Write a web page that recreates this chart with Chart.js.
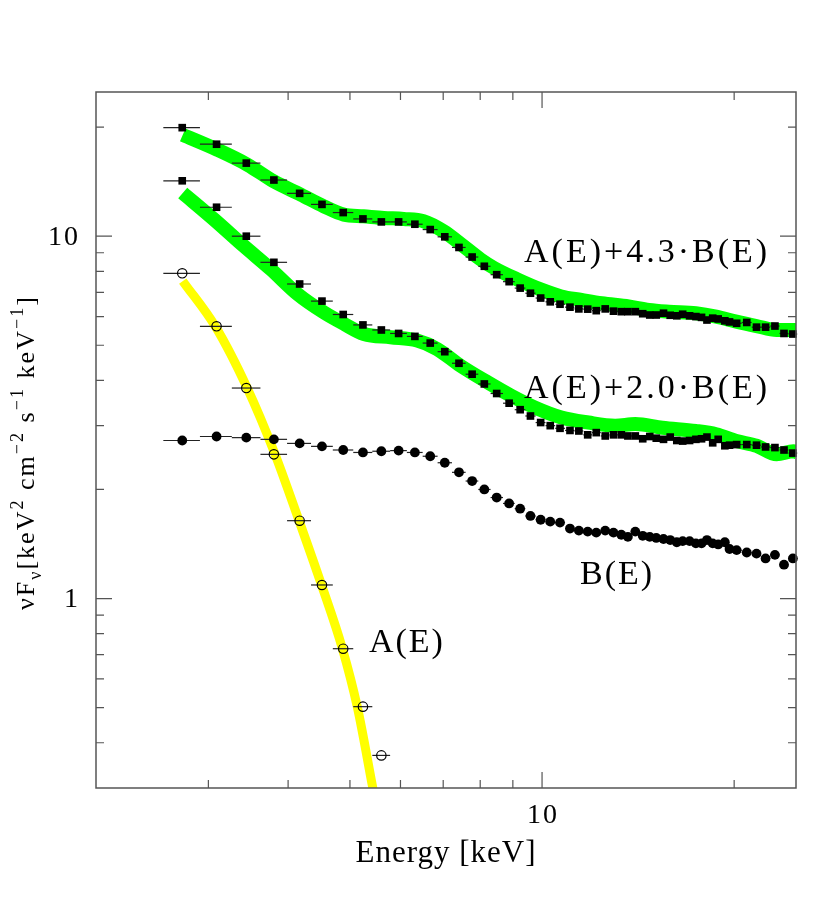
<!DOCTYPE html>
<html>
<head>
<meta charset="utf-8">
<script src="https://cdn.jsdelivr.net/npm/chart.js@4.4.1/dist/chart.umd.min.js"></script>
<style>
  html, body { margin: 0; padding: 0; background: #fff; }
  #wrap { width: 822px; height: 902px; position: relative; }
</style>
</head>
<body>
<div id="wrap"><canvas id="c"></canvas></div>
<script>
// Spectral decomposition: nuFnu of A(E), B(E) and two sums, log-log.

// Bin centres (keV), shared by every measured series.
const energy = [2.73, 3.09, 3.44, 3.80, 4.17, 4.52, 4.88, 5.24, 5.60, 5.96,
  6.32, 6.68, 7.04, 7.41, 7.77, 8.12, 8.49, 8.88, 9.24, 9.59,
  9.95, 10.30, 10.67, 11.06, 11.42, 11.79, 12.16, 12.56, 12.94, 13.31,
  13.63, 14.00, 14.38, 14.75, 15.10, 15.50, 15.88, 16.26, 16.61, 17.03,
  17.42, 17.78, 18.13, 18.51, 18.88, 19.34, 19.67, 20.18, 20.93, 21.68,
  22.40, 23.17, 23.94, 24.72];

const sum43 = [19.93, 17.94, 15.91, 14.29, 13.13, 12.24, 11.62, 11.16, 10.95, 10.95,
  10.79, 10.43, 9.96, 9.31, 8.76, 8.26, 7.83, 7.49, 7.19, 6.96,
  6.75, 6.59, 6.49, 6.37, 6.30, 6.29, 6.23, 6.30, 6.21, 6.19,
  6.19, 6.19, 6.11, 6.06, 6.06, 6.13, 6.05, 6.03, 6.09, 6.03,
  6.00, 5.97, 5.87, 5.94, 5.91, 5.84, 5.80, 5.75, 5.78, 5.61,
  5.61, 5.65, 5.39, 5.37];

const sum20 = [14.22, 12.02, 10.0, 8.47, 7.38, 6.62, 6.08, 5.69, 5.51, 5.39,
  5.29, 5.07, 4.80, 4.46, 4.16, 3.91, 3.68, 3.46, 3.32, 3.19,
  3.06, 3.00, 2.95, 2.91, 2.90, 2.83, 2.87, 2.81, 2.83, 2.83,
  2.81, 2.81, 2.76, 2.80, 2.77, 2.75, 2.79, 2.73, 2.72, 2.73,
  2.75, 2.76, 2.79, 2.69, 2.75, 2.64, 2.65, 2.66, 2.66, 2.65,
  2.62, 2.61, 2.57, 2.52];

const compB = [2.73, 2.80, 2.78, 2.75, 2.68, 2.63, 2.57, 2.53, 2.55, 2.56,
  2.53, 2.47, 2.37, 2.23, 2.11, 2.00, 1.90, 1.83, 1.77, 1.69,
  1.65, 1.63, 1.62, 1.56, 1.54, 1.53, 1.52, 1.54, 1.52, 1.50,
  1.48, 1.53, 1.49, 1.48, 1.47, 1.46, 1.45, 1.43, 1.44, 1.44,
  1.42, 1.42, 1.45, 1.42, 1.41, 1.43, 1.37, 1.36, 1.34, 1.33,
  1.29, 1.32, 1.24, 1.29];

// A(E) only measured in the first nine bins.
const compA = [7.90, 5.64, 3.81, 2.50, 1.64, 1.09, 0.727, 0.503, 0.369];

// Model curves (thick bands).
const model43E = [2.735, 3.10, 3.456, 3.80, 4.19, 4.55, 4.89, 5.25, 5.65, 6.07,
  6.52, 7.01, 7.53, 8.01, 8.41, 9.16, 9.97, 10.72, 11.53, 12.40,
  13.67, 14.70, 15.81, 17.42, 18.74, 20.16, 21.68, 23.31, 25.1];
const model43V = [19.03, 17.31, 15.74, 14.16, 13.02, 12.09, 11.47, 11.35, 11.23, 11.16,
  11.0, 10.32, 9.39, 8.63, 8.17, 7.59, 7.12, 6.82, 6.67, 6.53,
  6.40, 6.26, 6.19, 6.13, 6.00, 5.81, 5.65, 5.51, 5.51];

const model20E = [2.735, 3.064, 3.41, 3.76, 4.14, 4.55, 4.90, 5.26, 5.79, 6.37,
  6.85, 7.45, 8.22, 8.94, 9.73, 10.72, 11.82, 13.02, 14.00, 15.43,
  17.42, 18.74, 20.16, 21.68, 23.31, 24.77, 25.1];
const model20V = [13.16, 11.11, 9.39, 8.10, 6.92, 6.16, 5.72, 5.37, 5.26, 5.15,
  4.88, 4.39, 3.95, 3.63, 3.37, 3.16, 3.06, 3.00, 3.03, 2.96,
  2.90, 2.84, 2.72, 2.64, 2.50, 2.55, 2.53];

const modelAE = [2.735, 3.083, 3.456, 3.803, 4.162, 4.516, 4.866, 5.136, 5.42, 5.48];
const modelAV = [7.52, 5.60, 3.79, 2.54, 1.638, 1.086, 0.727, 0.501, 0.305, 0.275];

// Axis ticks.
const xMajor = [10];
const xMinor = [3, 4, 5, 6, 7, 8, 9, 20];
const yMajor = [1, 10];
const yMinor = [0.4, 0.5, 0.6, 0.7, 0.8, 0.9, 2, 3, 4, 5, 6, 7, 8, 9, 20];

// In-plot labels, anchored (left, baseline) in data coordinates.
const curveLabels = [
  { text: "A(E)+4.3\u00B7B(E)", x: 9.37, y: 8.49, sp: 3 },
  { text: "A(E)+2.0\u00B7B(E)", x: 9.37, y: 3.58, sp: 3 },
  { text: "B(E)", x: 11.47, y: 1.10, sp: 2 },
  { text: "A(E)", x: 5.355, y: 0.712, sp: 2 },
];

const FONT = '"Liberation Serif", "DejaVu Serif", serif';
const INK = "#000";
const AXIS = "#555";

const pts = (xs, ys) => ys.map((v, i) => ({ x: xs[i], y: v }));

// x error bars span each bin: half way to the neighbouring centres.
function bins(e) {
  const n = e.length;
  return e.map((c, i) => {
    const lo = i > 0 ? (e[i - 1] + c) / 2 : c - (e[1] - e[0]) / 2;
    const hi = i < n - 1 ? (c + e[i + 1]) / 2 : c + (e[n - 1] - e[n - 2]) / 2;
    return [lo, hi];
  });
}
const xBins = bins(energy);

const errBars = {
  id: "errBars",
  beforeDatasetDraw(chart, args) {
    const ds = chart.data.datasets[args.index];
    if (!ds.xBins) return;
    const { ctx, scales: { x, y } } = chart;
    ctx.save();
    ctx.strokeStyle = "#222";
    ctx.lineWidth = 1.2;
    ds.data.forEach((p, i) => {
      const py = y.getPixelForValue(p.y);
      ctx.beginPath();
      ctx.moveTo(x.getPixelForValue(ds.xBins[i][0]), py);
      ctx.lineTo(x.getPixelForValue(ds.xBins[i][1]), py);
      ctx.stroke();
    });
    ctx.restore();
  },
};

function drawRuns(ctx, runs, size) {        // text with super/subscripts
  let at = 0;
  for (const r of runs) {
    const s = r.sup || r.sub ? size * 0.7 : size;
    ctx.font = `${s}px ${FONT}`;
    const dy = r.sup ? -size * 0.42 : r.sub ? size * 0.28 : 0;
    ctx.fillText(r.t, at, dy);
    at += ctx.measureText(r.t).width;
  }
}

const frame = {
  id: "frame",
  afterDraw(chart) {
    const { ctx, chartArea: a, scales: { x, y } } = chart;
    ctx.save();
    ctx.strokeStyle = AXIS;
    ctx.lineWidth = 1.5;
    ctx.strokeRect(a.left, a.top, a.right - a.left, a.bottom - a.top);

    const tickX = (v, len) => {
      const px = x.getPixelForValue(v);
      ctx.beginPath();
      ctx.moveTo(px, a.bottom); ctx.lineTo(px, a.bottom - len);
      ctx.moveTo(px, a.top); ctx.lineTo(px, a.top + len);
      ctx.stroke();
    };
    const tickY = (v, len) => {
      const py = y.getPixelForValue(v);
      ctx.beginPath();
      ctx.moveTo(a.left, py); ctx.lineTo(a.left + len, py);
      ctx.moveTo(a.right, py); ctx.lineTo(a.right - len, py);
      ctx.stroke();
    };
    ctx.lineWidth = 1.2;
    xMinor.forEach((v) => tickX(v, 8));
    xMajor.forEach((v) => tickX(v, 16));
    yMinor.forEach((v) => tickY(v, 8));
    yMajor.forEach((v) => tickY(v, 16));

    // tick labels
    ctx.fillStyle = INK;
    ctx.font = `28px ${FONT}`;
    ctx.letterSpacing = "2px";
    ctx.textBaseline = "middle";
    ctx.textAlign = "center";
    xMajor.forEach((v) => ctx.fillText(String(v), x.getPixelForValue(v) + 1, a.bottom + 28));
    ctx.textAlign = "right";
    yMajor.forEach((v) => ctx.fillText(String(v), a.left - 16, y.getPixelForValue(v) + 1));

    // axis titles
    ctx.textBaseline = "alphabetic";
    ctx.textAlign = "center";
    ctx.font = `31px ${FONT}`;
    ctx.letterSpacing = "1px";
    ctx.fillText("Energy [keV]", (a.left + a.right) / 2, a.bottom + 74);

    ctx.textAlign = "left";
    ctx.letterSpacing = "2px";
    ctx.save();
    ctx.translate(34, 610);
    ctx.rotate(-Math.PI / 2);
    drawRuns(ctx, [
      { t: "\u03BDF" }, { t: "\u03BD", sub: true }, { t: "[keV" }, { t: "2", sup: true },
      { t: " cm" }, { t: "\u22122", sup: true }, { t: " s" }, { t: "\u22121", sup: true },
      { t: " keV" }, { t: "\u22121", sup: true }, { t: "]" },
    ], 26);
    ctx.restore();

    // curve labels
    ctx.font = `34px ${FONT}`;
    curveLabels.forEach((l) => {
      ctx.letterSpacing = l.sp + "px";
      ctx.fillText(l.text, x.getPixelForValue(l.x), y.getPixelForValue(l.y));
    });
    ctx.restore();
  },
};

const band = (data, color, width) => ({
  data, showLine: true, borderColor: color, borderWidth: width,
  pointRadius: 0, cubicInterpolationMode: "monotone", order: 2, clip: 0,
});

new Chart(document.getElementById("c"), {
  type: "scatter",
  data: {
    datasets: [
      { data: pts(energy, sum43), pointStyle: "rect", pointRadius: 5.4,
        backgroundColor: INK, borderWidth: 0, xBins, order: 0, clip: false },
      { data: pts(energy, sum20), pointStyle: "rect", pointRadius: 5.4,
        backgroundColor: INK, borderWidth: 0, xBins, order: 0, clip: false },
      { data: pts(energy, compB), pointStyle: "circle", pointRadius: 4.9,
        backgroundColor: INK, borderWidth: 0, xBins, order: 0, clip: false },
      { data: pts(energy, compA), pointStyle: "circle", pointRadius: 4.7,
        backgroundColor: "rgba(0,0,0,0)", borderColor: INK, borderWidth: 1.2,
        xBins: xBins.slice(0, compA.length), order: 0, clip: false },
      band(pts(model43E, model43V), "#00ff00", 14),
      band(pts(model20E, model20V), "#00ff00", 14),
      band(pts(modelAE, modelAV), "#ffff00", 9),
    ],
  },
  options: {
    responsive: true,
    maintainAspectRatio: false,
    animation: false,
    layout: { padding: { left: 96, right: 26, top: 92, bottom: 114 } },
    plugins: { legend: { display: false }, tooltip: { enabled: false } },
    scales: {
      x: { type: "logarithmic", min: 2, max: 25, display: false },
      y: { type: "logarithmic", min: 0.3, max: 25, display: false },
    },
  },
  plugins: [errBars, frame],
});
</script>
</body>
</html>
